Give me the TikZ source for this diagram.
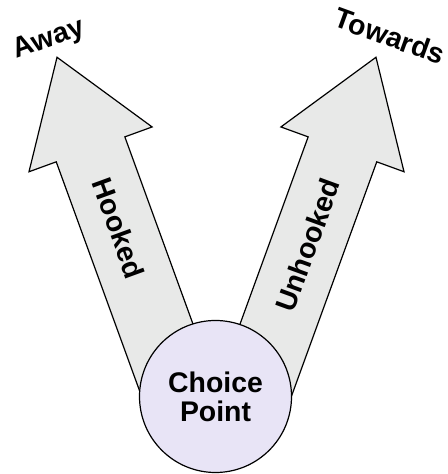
\documentclass[tikz,border=0pt]{standalone}
\usepackage{fontspec}
\setsansfont{Liberation Sans}
\usepackage{tikz}
\definecolor{shaftgray}{HTML}{E8E9E8}
\definecolor{choicelilac}{HTML}{E8E4F6}
\tikzstyle{pointer} = [draw, fill=shaftgray, line width=0.6pt, line join=miter]
\tikzstyle{word} = [font=\sffamily\bfseries\fontsize{14.2}{15.5}\selectfont, inner sep=0pt]
\tikzstyle{choice} = [draw, circle, fill=choicelilac, line width=0.6pt, minimum size=76pt, inner sep=0pt, align=center, word]

\begin{document}
\begin{tikzpicture}[x=0.5pt, y=0.5pt]
    \useasboundingbox (0, 0) rectangle (447, 474);

    % Arrows.
    \foreach \ang/\bx in {20/180.5, -20/252.5} {
        \draw [pointer, shift={(\bx, 77.5)}, rotate=\ang]
            (-36.5, 0) -- (-36.5, 263) -- (-65.5, 263) -- (0, 361)
            -- (65.5, 263) -- (36.5, 263) -- (36.5, 0) -- cycle;
    }

    % Labels.
    \node (away) [word, rotate=20] at (49, 434) {Away};
    \node (towards) [word, rotate=-20] at (390, 438) {Towards};
    \node (hooked) [word, rotate=-70] at (118.5, 246) {Hooked};
    \node (unhooked) [word, rotate=70] at (307.5, 229) {Unhooked};

    % Choice point.
    \node (point) [choice] at (215.5, 77.5) {Choice\\[-1pt]Point};
\end{tikzpicture}
\end{document}
